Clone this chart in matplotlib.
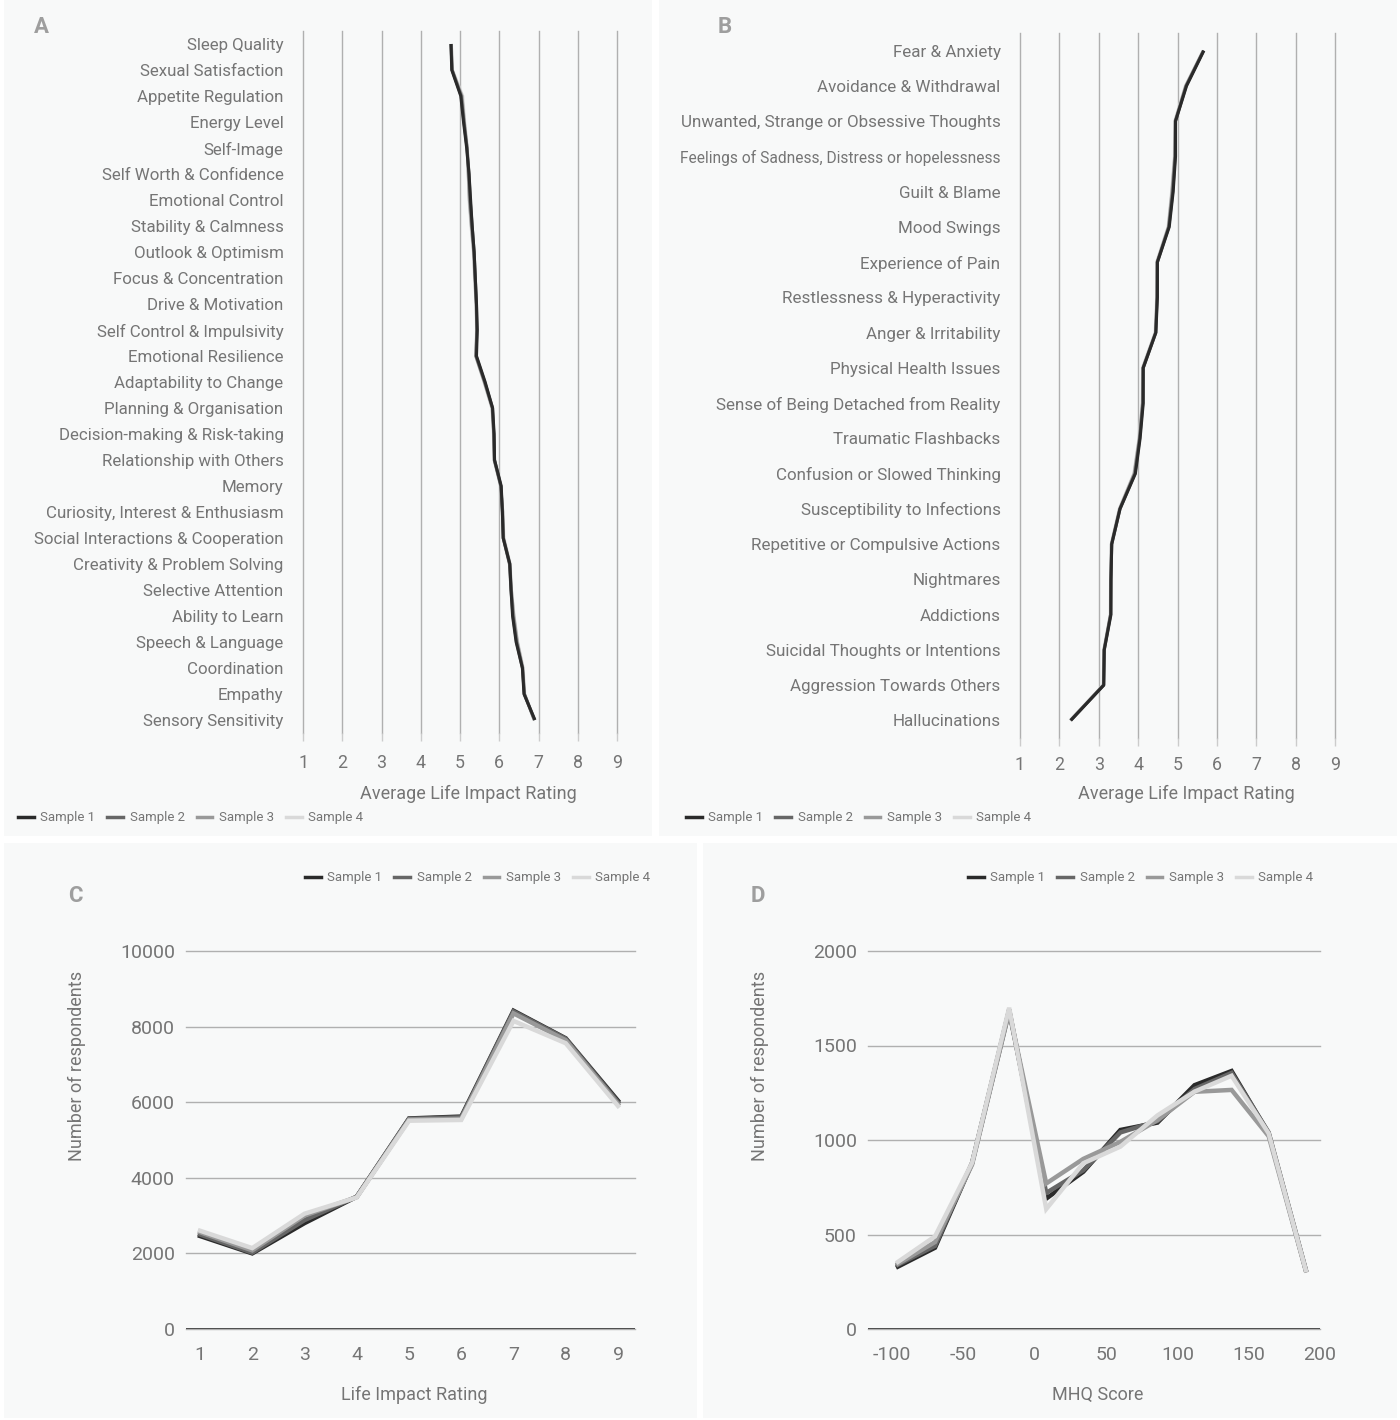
import matplotlib
matplotlib.use("Agg")
import matplotlib.pyplot as plt
from matplotlib.patches import Rectangle
from matplotlib.lines import Line2D

plt.rcParams['font.family'] = ['Roboto', 'DejaVu Sans']
plt.rcParams['axes.unicode_minus'] = False

# ---- data -------------------------------------------------------------
samples = ['Sample 1', 'Sample 2', 'Sample 3', 'Sample 4']
line_colors = ['#2a2a2a', '#666666', '#999999', '#d9d9d9']

abilities = ['Sleep Quality', 'Sexual Satisfaction', 'Appetite Regulation', 'Energy Level',
             'Self-Image', 'Self Worth & Confidence', 'Emotional Control', 'Stability & Calmness',
             'Outlook & Optimism', 'Focus & Concentration', 'Drive & Motivation',
             'Self Control & Impulsivity', 'Emotional Resilience', 'Adaptability to Change',
             'Planning & Organisation', 'Decision-making & Risk-taking', 'Relationship with Others',
             'Memory', 'Curiosity, Interest & Enthusiasm', 'Social Interactions & Cooperation',
             'Creativity & Problem Solving', 'Selective Attention', 'Ability to Learn',
             'Speech & Language', 'Coordination', 'Empathy', 'Sensory Sensitivity']
abil_s1 = [4.77, 4.79, 5.02, 5.09, 5.17, 5.23, 5.27, 5.31, 5.36, 5.39, 5.42, 5.44, 5.42, 5.64,
           5.83, 5.87, 5.88, 6.05, 6.08, 6.10, 6.27, 6.30, 6.34, 6.43, 6.59, 6.63, 6.91]
abil_s2 = [4.77, 4.80, 5.03, 5.10, 5.18, 5.23, 5.26, 5.31, 5.36, 5.39, 5.42, 5.43, 5.41, 5.63,
           5.83, 5.86, 5.88, 6.04, 6.08, 6.10, 6.26, 6.30, 6.35, 6.44, 6.59, 6.64, 6.90]
abil_s3 = [4.78, 4.80, 5.05, 5.11, 5.18, 5.21, 5.24, 5.29, 5.35, 5.38, 5.41, 5.43, 5.40, 5.62,
           5.82, 5.86, 5.87, 6.04, 6.09, 6.11, 6.27, 6.31, 6.37, 6.46, 6.60, 6.64, 6.89]
abil_s4 = [4.78, 4.81, 5.07, 5.12, 5.19, 5.21, 5.23, 5.28, 5.34, 5.37, 5.41, 5.42, 5.40, 5.61,
           5.81, 5.85, 5.87, 6.03, 6.09, 6.12, 6.28, 6.31, 6.38, 6.47, 6.61, 6.65, 6.89]

problems = ['Fear & Anxiety', 'Avoidance & Withdrawal', 'Unwanted, Strange or Obsessive Thoughts',
            'Feelings of Sadness, Distress or hopelessness', 'Guilt & Blame', 'Mood Swings',
            'Experience of Pain', 'Restlessness & Hyperactivity', 'Anger & Irritability',
            'Physical Health Issues', 'Sense of Being Detached from Reality', 'Traumatic Flashbacks',
            'Confusion or Slowed Thinking', 'Susceptibility to Infections',
            'Repetitive or Compulsive Actions', 'Nightmares', 'Addictions',
            'Suicidal Thoughts or Intentions', 'Aggression Towards Others', 'Hallucinations']
prob_s1 = [5.67, 5.23, 4.95, 4.95, 4.89, 4.79, 4.49, 4.49, 4.45, 4.13, 4.13, 4.05, 3.93, 3.54,
           3.33, 3.31, 3.31, 3.14, 3.13, 2.29]
prob_s2 = [5.66, 5.22, 4.95, 4.94, 4.88, 4.78, 4.49, 4.48, 4.45, 4.13, 4.12, 4.04, 3.92, 3.54,
           3.33, 3.31, 3.30, 3.14, 3.12, 2.29]
prob_s3 = [5.66, 5.21, 4.94, 4.93, 4.86, 4.77, 4.48, 4.48, 4.44, 4.12, 4.11, 4.03, 3.90, 3.53,
           3.32, 3.31, 3.30, 3.13, 3.12, 2.28]
prob_s4 = [5.65, 5.20, 4.93, 4.92, 4.85, 4.76, 4.47, 4.47, 4.43, 4.11, 4.10, 4.02, 3.89, 3.52,
           3.32, 3.30, 3.29, 3.13, 3.11, 2.27]

ratings = [1, 2, 3, 4, 5, 6, 7, 8, 9]
rating_s1 = [2460, 2000, 2800, 3500, 5570, 5620, 8420, 7690, 6040]
rating_s2 = [2500, 2020, 2880, 3500, 5560, 5600, 8400, 7680, 6000]
rating_s3 = [2560, 2080, 3000, 3490, 5540, 5560, 8350, 7640, 5950]
rating_s4 = [2600, 2140, 3050, 3480, 5510, 5530, 8150, 7560, 5900]

mhq_bins = [-96, -70, -44, -18, 8, 34, 60, 86, 112, 138, 164, 190]
mhq_s1 = [330, 430, 877, 1690, 690, 832, 1053, 1092, 1290, 1365, 1035, 312]
mhq_s2 = [340, 440, 880, 1680, 720, 840, 1040, 1100, 1270, 1355, 1040, 315]
mhq_s3 = [345, 460, 870, 1680, 770, 900, 990, 1105, 1255, 1265, 1020, 310]
mhq_s4 = [355, 490, 880, 1700, 635, 877, 965, 1130, 1256, 1340, 1035, 312]

# ---- layout helpers (pixel coordinates) -------------------------------
W, H = 1400, 1420
fig = plt.figure(figsize=(W / 100, H / 100), dpi=100)
fig.patch.set_facecolor('white')

TXT = '#757575'
GRID = '#b0b0b0'
BG = '#f8f9f9'
LETTER = '#9e9e9e'


def add_ax(l, t, r, b):
    ax = fig.add_axes([l / W, 1 - b / H, (r - l) / W, (b - t) / H])
    ax.set_facecolor('none')
    for s in ax.spines.values():
        s.set_visible(False)
    return ax


def panel_bg(l, t, r, b):
    fig.patches.append(Rectangle((l / W, 1 - b / H), (r - l) / W, (b - t) / H,
                                 transform=fig.transFigure, facecolor=BG,
                                 edgecolor='none', zorder=-10))


def ftext(x, y, s, **kw):
    fig.text(x / W, 1 - y / H, s, **kw)


def legend_at(x, y):
    handles = [Line2D([], [], color=c, lw=2.5) for c in line_colors]
    fig.legend(handles, samples, loc='center left', bbox_to_anchor=(x / W, 1 - y / H),
               ncol=4, frameon=False, fontsize=9.5, labelcolor=TXT,
               handlelength=1.2, handletextpad=0.5, columnspacing=0.9,
               borderpad=0, borderaxespad=0)


def unclip_grid(axis):
    for gl in axis.get_gridlines():
        gl.set_clip_on(False)


panel_bg(4, 0, 652, 836)
panel_bg(659, 0, 1397, 836)
panel_bg(4, 843, 697, 1418)
panel_bg(703, 843, 1397, 1418)


def rating_panel(ax, cats, series):
    ypos = list(range(len(cats)))
    # draw sample 4 first so the darkest line ends up on top
    for vals, c in reversed(list(zip(series, line_colors))):
        ax.plot(vals, ypos, color=c, lw=2.2, solid_capstyle='butt')
    ax.set_xlim(1, 9)
    ax.set_ylim(len(cats) - 0.5, -0.5)
    ax.set_xticks(ratings)
    ax.set_yticks(ypos)
    ax.set_yticklabels(cats)
    ax.grid(axis='x', color=GRID, lw=1)
    unclip_grid(ax.xaxis)
    ax.set_axisbelow(True)
    ax.tick_params(axis='y', length=0, pad=14, labelsize=12.2, labelcolor=TXT)
    ax.tick_params(axis='x', length=6, width=1, color='#cccccc', pad=9,
                   labelsize=12.8, labelcolor=TXT)


# ---- A ----------------------------------------------------------------
axA = add_ax(303, 31, 617, 733)
rating_panel(axA, abilities, [abil_s1, abil_s2, abil_s3, abil_s4])
ftext(468, 794, 'Average Life Impact Rating', ha='center', va='center', fontsize=13, color=TXT)
ftext(41, 27, 'A', ha='center', va='center', fontsize=16, fontweight='bold', color=LETTER)
legend_at(18, 818)

# ---- B ----------------------------------------------------------------
axB = add_ax(1020, 33, 1335, 738)
rating_panel(axB, problems, [prob_s1, prob_s2, prob_s3, prob_s4])
axB.tick_params(axis='y', labelsize=12.25)
axB.tick_params(axis='x', pad=7)
# the longest label is squeezed in the original
axB.get_yticklabels()[3].set_fontsize(11.2)
ftext(1186, 794, 'Average Life Impact Rating', ha='center', va='center', fontsize=13, color=TXT)
ftext(725, 27, 'B', ha='center', va='center', fontsize=16, fontweight='bold', color=LETTER)
legend_at(686, 818)


def count_panel(ax, xs, series, ymax, xlim):
    for vals, c in zip(series, line_colors):
        ax.plot(xs, vals, color=c, lw=3.2, solid_joinstyle='miter')
    ax.set_xlim(*xlim)
    ax.set_ylim(0, ymax)
    ax.grid(axis='y', color=GRID, lw=1)
    unclip_grid(ax.yaxis)
    ax.set_axisbelow(True)
    ax.axhline(0, color='#333333', lw=1.2, zorder=1)
    ax.tick_params(axis='both', length=0, labelsize=14, labelcolor=TXT)
    ax.tick_params(axis='x', pad=12)
    ax.tick_params(axis='y', pad=8)


# ---- C ----------------------------------------------------------------
axC = add_ax(186, 951, 635, 1329)
count_panel(axC, ratings, [rating_s1, rating_s2, rating_s3, rating_s4], 10000,
            (1 - 14 / 52.25, 9 + 17 / 52.25))
axC.set_xticks(ratings)
axC.set_yticks([0, 2000, 4000, 6000, 8000, 10000])
ftext(414, 1395, 'Life Impact Rating', ha='center', va='center', fontsize=13, color=TXT)
ftext(77, 1066, 'Number of respondents', ha='center', va='center', rotation=90,
      fontsize=13, color=TXT)
ftext(75, 896, 'C', ha='center', va='center', fontsize=16, fontweight='bold', color=LETTER)
legend_at(305, 878)

# ---- D ----------------------------------------------------------------
axD = add_ax(868, 951, 1320, 1329)
count_panel(axD, mhq_bins, [mhq_s1, mhq_s2, mhq_s3, mhq_s4], 2000,
            (-117, 200))
axD.set_xticks([-100, -50, 0, 50, 100, 150, 200])
axD.set_yticks([0, 500, 1000, 1500, 2000])
ftext(1098, 1395, 'MHQ Score', ha='center', va='center', fontsize=13, color=TXT)
ftext(760, 1066, 'Number of respondents', ha='center', va='center', rotation=90,
      fontsize=13, color=TXT)
ftext(758, 896, 'D', ha='center', va='center', fontsize=16, fontweight='bold', color=LETTER)
legend_at(968, 878)

fig.savefig('out.png', dpi=100, facecolor='white')
